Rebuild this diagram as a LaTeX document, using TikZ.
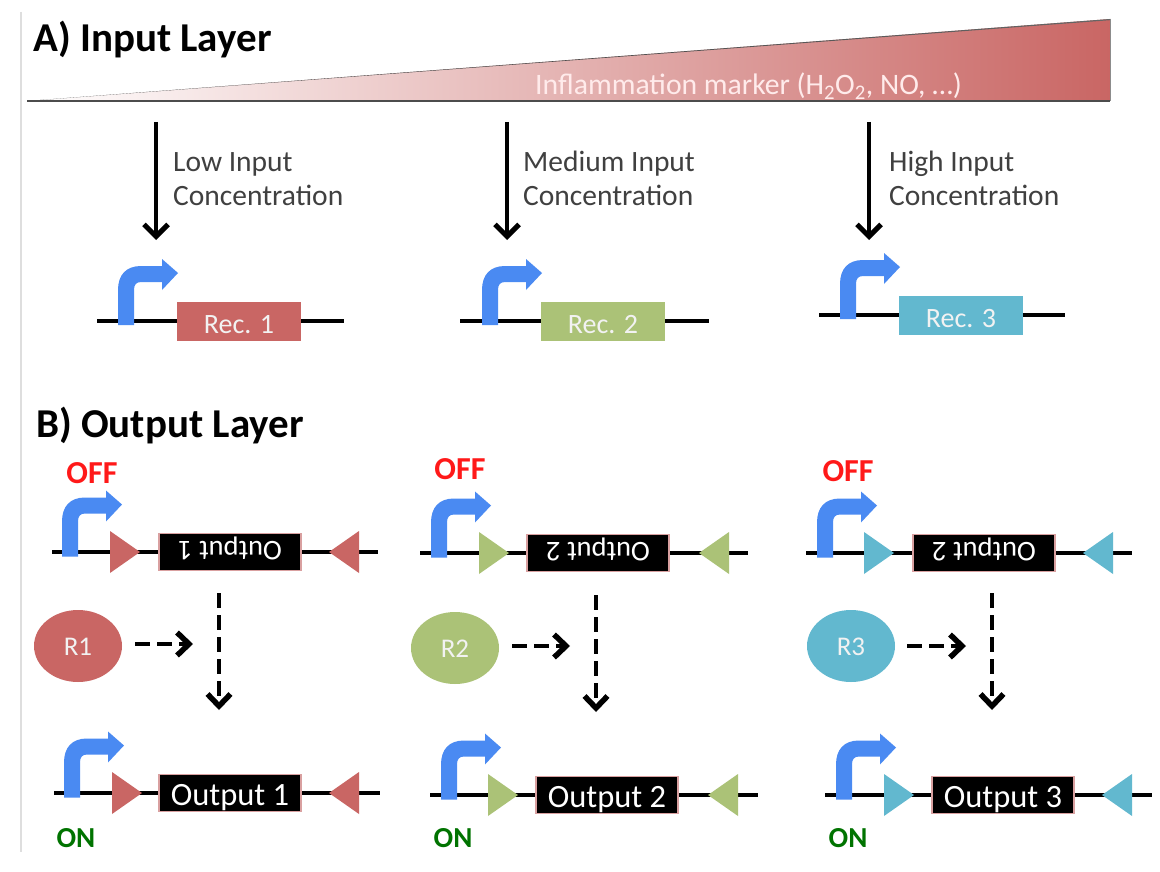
\documentclass[tikz,border=0pt]{standalone}
\usepackage{fontspec}
\setmainfont{Carlito}
\usetikzlibrary{arrows.meta,shapes.geometric}
\definecolor{cred}{HTML}{C96664}
\definecolor{cgreen}{HTML}{ABC277}
\definecolor{ccyan}{HTML}{62B8CF}
\definecolor{cblue}{HTML}{4A8AF2}
\definecolor{edgepink}{HTML}{D9A0A0}
\tikzset{
  title/.style={font=\bfseries\fontsize{41}{44}\selectfont,anchor=base west,inner sep=0pt},
  lbl/.style={font=\fontsize{29.5}{34}\selectfont,color=black!75,align=left,anchor=north west,inner sep=0pt},
  dna/.style={line width=3.2pt,black},
  recbox/.style={minimum width=124pt,minimum height=39pt,inner sep=0pt,text=white!90!gray,font=\fontsize{28}{30}\selectfont,text height=25pt,text depth=0pt},
  outbox/.style={fill=black,draw=edgepink,line width=1.2pt,minimum width=142pt,minimum height=37pt,inner sep=0pt,text=white,font=\fontsize{32.5}{34}\selectfont,text height=24pt,text depth=0pt},
  outboxflip/.style={outbox,rotate=180,font=\fontsize{28.5}{30}\selectfont,text height=21pt},
  solidarrow/.style={line width=4pt,-{Straight Barb[length=12pt,width=24pt,line width=5pt]}},
  dasharrow/.style={line width=4.5pt,dash pattern=on 15pt off 7pt,-{Straight Barb[length=12pt,width=23pt,line width=5.5pt]}},
  regulator/.style={ellipse,minimum width=88pt,minimum height=72pt,inner sep=0pt,text=white!90!gray,font=\fontsize{27}{28}\selectfont,text height=18pt,text depth=0pt},
  offlabel/.style={font=\bfseries\fontsize{32}{34}\selectfont,text=red!90!white,inner sep=0pt},
  onlabel/.style={font=\bfseries\fontsize{29}{30}\selectfont,text=green!45!black,inner sep=0pt},
  promoter/.pic={
    \fill[cblue] (0,0) -- (0,-35) .. controls (0,-50) and (8,-59) .. (23,-59) -- (44,-59) -- (44,-66) -- (60,-52) -- (44,-35) -- (44,-43) -- (23,-43) .. controls (18,-43) and (16,-40) .. (16,-35) -- (16,0) -- cycle;
  },
  sitefwd/.pic={\fill[pic actions] (0,-21) -- (30,0) -- (0,21) -- cycle;},
  siterev/.pic={\fill[pic actions] (0,-21) -- (-30,0) -- (0,21) -- cycle;},
}
% \inputcassette{id}{line x1}{line x2}{y}{promoter x}{box x centre}{colour}{label}
\newcommand{\inputcassette}[8]{
  \coordinate (#1a) at (#2,#4);
  \coordinate (#1b) at (#3,#4);
  \draw[dna] (#1a) -- (#1b);
  \pic at (#5,#4+4) {promoter};
  \node[recbox,fill=#7] (#1box) at (#6,#4) {#8};
}
% \outputcassette{id}{x1}{x2}{y}{promoter x}{left site x}{box centre}{right site x}{colour}
\newcommand{\outputcassette}[9]{
  \coordinate (#1a) at (#2,#4);
  \coordinate (#1b) at (#3,#4);
  \draw[dna] (#1a) -- (#1b);
  \pic at (#5,#4+4.5) {promoter};
  \pic[fill=#9] at (#6,#4) {sitefwd};
  \pic[fill=#9] at (#8,#4) {siterev};
  \coordinate (#1c) at (#7,#4);
}
\begin{document}
\begin{tikzpicture}[x=1pt,y=-1pt]
\useasboundingbox (0,0) rectangle (1160,872);
\fill[white] (0,0) rectangle (1160,872);
\coordinate (railtop) at (21,12);
\coordinate (railbot) at (21,852);
\draw[black!13,line width=1.3pt] (railtop) -- (railbot);

\node[title] (ta) at (33,51.5) {A) Input Layer};
\node[title] (tb) at (36,437) {B) Output Layer};

% wedge
\shade[left color=white,right color=cred,shading angle=90] (27,101) -- (1110,19) -- (1110,101) -- cycle;
\shade[left color=black!80,right color=black!60,shading angle=90] (27,101) -- (1110,19) -- (1110,20.2) -- cycle;
\coordinate (wl) at (27,101);
\coordinate (wr) at (1110,101);
\coordinate (wt) at (1110,19);
\draw[black!70,line width=1.6pt] (wl) -- (wr);
\draw[black!45,line width=1pt] (wt) -- (wr);
\node[font=\fontsize{29.7}{32}\selectfont,text=white!92!red,inner sep=0pt,anchor=base west] (marker) at (535,95) {Inflammation marker (H\textsubscript{2}O\textsubscript{2}, NO, …)};

% input layer
\inputcassette{ia}{97}{344}{321}{118}{239}{cred}{Rec. 1}
\inputcassette{ib}{460}{709}{321}{482}{603}{cgreen}{Rec. 2}
\inputcassette{ic}{819}{1065}{315}{840}{961}{ccyan}{Rec. 3}
\coordinate (s1) at (156,122); \coordinate (e1) at (156,240);
\coordinate (s2) at (507,122); \coordinate (e2) at (507,240);
\coordinate (s3) at (869,122); \coordinate (e3) at (869,240);
\draw[solidarrow] (s1) -- (e1);
\draw[solidarrow] (s2) -- (e2);
\draw[solidarrow] (s3) -- (e3);
\node[lbl] (l1) at (173,147) {\strut Low Input\\Concentration};
\node[lbl] (l2) at (523,147) {\strut Medium Input\\Concentration};
\node[lbl] (l3) at (889,147) {\strut High Input\\Concentration};

% output layer, OFF row
\outputcassette{oa}{52}{378}{552}{62}{110}{230}{359}{cred}
\outputcassette{ob}{420}{748}{553}{431}{479}{598}{729}{cgreen}
\outputcassette{oc}{806}{1132}{553}{817}{864}{984}{1113}{ccyan}
\node[outboxflip] (oaBox) at (oac) {Output 1};
\node[outboxflip] (obBox) at (obc) {Output 2};
\node[outboxflip] (ocBox) at (occ) {Output 2};
\node[offlabel] (off1) at (92,473) {OFF};
\node[offlabel] (off2) at (460,469) {OFF};
\node[offlabel] (off3) at (848,471) {OFF};

% ON row
\outputcassette{pa}{54}{380}{793}{64}{112}{230}{359}{cred}
\outputcassette{pb}{430}{758}{795}{441}{488}{607}{738}{cgreen}
\outputcassette{pc}{825}{1152}{795}{836}{884}{1003}{1132}{ccyan}
\node[outbox] (paBox) at (pac) {Output 1};
\node[outbox] (pbBox) at (pbc) {Output 2};
\node[outbox] (pcBox) at (pcc) {Output 3};
\node[onlabel] (on1) at (76,838) {ON};
\node[onlabel] (on2) at (453,838) {ON};
\node[onlabel] (on3) at (848,838) {ON};

% regulators
\node[regulator,fill=cred] (r1) at (78,646) {R1};
\node[regulator,fill=cgreen] (r2) at (455,648) {R2};
\node[regulator,fill=ccyan] (r3) at (851,646) {R3};
\coordinate (h1) at (193,644); \coordinate (h2) at (570,646); \coordinate (h3) at (966,646);
\coordinate (g1) at (135,644); \coordinate (g2) at (512,646); \coordinate (g3) at (907,646);
\draw[dasharrow] (g1) -- (h1);
\draw[dasharrow] (g2) -- (h2);
\draw[dasharrow] (g3) -- (h3);
\coordinate (v1a) at (219,593); \coordinate (v1b) at (219,710);
\coordinate (v2a) at (596,595); \coordinate (v2b) at (596,712);
\coordinate (v3a) at (992,593); \coordinate (v3b) at (992,710);
\draw[dasharrow] (v1a) -- (v1b);
\draw[dasharrow] (v2a) -- (v2b);
\draw[dasharrow] (v3a) -- (v3b);
\end{tikzpicture}
\end{document}
